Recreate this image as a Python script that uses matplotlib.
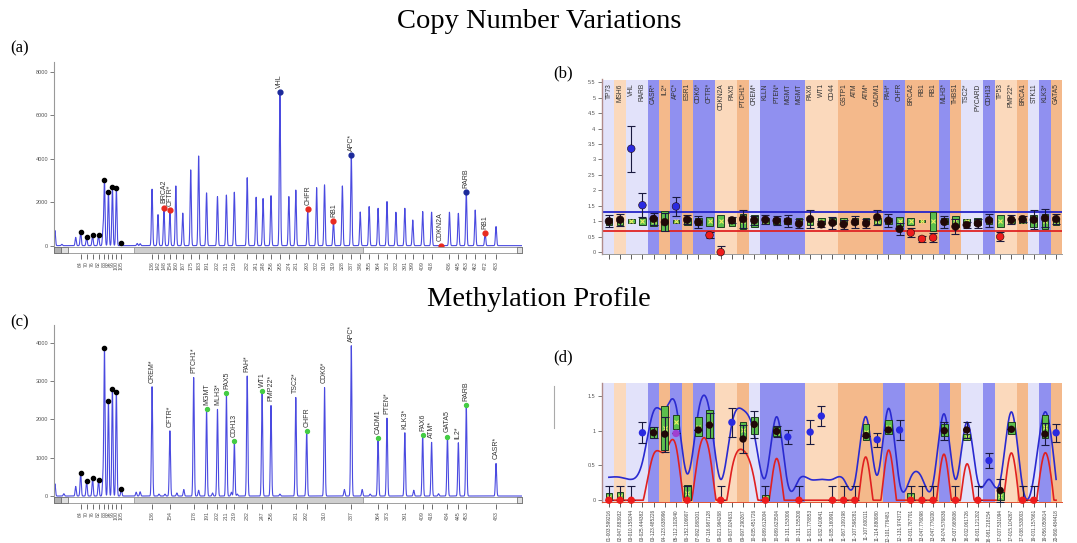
import numpy as np
import matplotlib
matplotlib.use('Agg')
import matplotlib.pyplot as plt
from matplotlib.patches import Rectangle
from matplotlib.lines import Line2D

# ---------------- data ----------------
# panel (a): CNV electropherogram
a_ctrl_size = [64, 70, 76, 82, 88, 92, 96, 100, 105]
a_ctrl_height = [650, 420, 490, 490, 3030, 2490, 2720, 2640, 110]
a_probe_size = [136, 142, 148, 154, 160, 167, 175, 183, 191, 202, 211, 219, 232, 241, 248, 256,
                265, 274, 281, 293, 302, 310, 319, 328, 337, 346, 355, 364, 373, 382, 391, 399,
                409, 418, 427, 436, 445, 453, 462, 472, 483]
a_probe_height = [2600, 1430, 1750, 1630, 2750, 1500, 3490, 4130, 2430, 2260, 2330, 2460, 3130,
                  2230, 2170, 2300, 7070, 2260, 2560, 1670, 2670, 2800, 1140, 2750, 4180, 1550,
                  1800, 1720, 2030, 1540, 1720, 1180, 1570, 1540, 0, 1540, 1490, 2460, 1640, 570, 880]
a_minor_size = [38, 45, 59, 86.5, 121, 124]
a_minor_height = [700, 60, 380, 680, 100, 90]
a_mark_size = [148, 154, 265, 293, 319, 337, 427, 453, 472]
a_mark_gene = ['BRCA2', 'CFTR*', 'VHL', 'CHFR', 'RB1', 'APC*', 'CDKN2A', 'RARB', 'RB1']
a_mark_call = ['loss', 'loss', 'gain', 'loss', 'loss', 'gain', 'loss', 'gain', 'loss']
a_yticks = [0, 2000, 4000, 6000, 8000]

# panel (c): methylation electropherogram
c_ctrl_size = [64, 70, 76, 82, 88, 92, 96, 100, 105]
c_ctrl_height = [600, 400, 470, 430, 3850, 2470, 2790, 2720, 180]
c_probe_size = [136, 154, 178, 191, 202, 211, 219, 232, 247, 256, 281, 292, 310, 337, 364, 373,
                391, 409, 418, 434, 445, 453, 483]
c_probe_gene = ['CREM*', 'CFTR*', 'PTCH1*', 'MGMT', 'MLH3*', 'PAX5', 'CDH13', 'PAH*', 'WT1',
                'PMP22*', 'TSC2*', 'CHFR', 'CDK6*', 'APC*', 'CADM1', 'PTEN*', 'KLK3*', 'PAX6',
                'ATM*', 'GATA5', 'IL2*', 'RARB', 'CASR*']
c_probe_height = [2850, 1700, 3090, 2260, 2260, 2680, 1440, 3130, 2730, 2360, 2570, 1700, 2830,
                  3920, 1520, 2030, 1650, 1590, 1400, 1550, 1390, 2370, 850]
c_methylated = [0, 0, 0, 1, 0, 1, 1, 0, 1, 0, 0, 1, 0, 0, 1, 0, 0, 1, 0, 1, 0, 1, 0]
c_minor_size = [38, 47, 59, 86.5, 120, 124, 143, 149, 161, 168, 183, 197, 216, 222, 265, 330,
                348, 356, 400, 425]
c_minor_height = [320, 60, 250, 470, 100, 110, 50, 50, 80, 170, 150, 80, 100, 50, 50, 170, 170,
                  50, 150, 60]
c_yticks = [0, 1000, 2000, 3000, 4000]

# panel (b): CNV ratio chart
b_genes = ['TP73', 'MSH6', 'VHL', 'RARB', 'CASR*', 'IL2*', 'APC*', 'ESR1', 'CDK6*', 'CFTR*',
           'CDKN2A', 'PAX5', 'PTCH1*', 'CREM*', 'KLLN', 'PTEN*', 'MGMT', 'MGMT', 'PAX6', 'WT1',
           'CD44', 'GSTP1', 'ATM', 'ATM*', 'CADM1', 'PAH*', 'CHFR', 'BRCA2', 'RB1', 'RB1',
           'MLH3*', 'THBS1', 'TSC2*', 'PYCARD', 'CDH13', 'TP53', 'PMP22*', 'BRCA1', 'STK11',
           'KLK3*', 'GATA5']
b_band = ['L', 'P', 'L', 'L', 'B', 'O', 'B', 'O', 'B', 'B', 'P', 'P', 'O', 'L', 'B', 'B', 'B',
          'B', 'P', 'P', 'P', 'O', 'O', 'O', 'O', 'B', 'B', 'O', 'O', 'O', 'B', 'O', 'L', 'L',
          'B', 'P', 'P', 'O', 'L', 'B', 'O']
b_ratio = [1.0, 1.05, 3.35, 1.52, 1.08, 0.97, 1.48, 1.05, 0.97, 0.55, 0.0, 1.03, 1.07, 1.03,
           1.05, 1.02, 1.0, 0.92, 1.07, 0.9, 0.95, 0.9, 0.97, 0.93, 1.13, 1.02, 0.75, 0.63, 0.43,
           0.47, 0.98, 0.83, 0.88, 0.93, 1.03, 0.5, 1.05, 1.07, 1.05, 1.1, 1.07]
b_err = [0.2, 0.2, 0.75, 0.38, 0.2, 0.3, 0.3, 0.15, 0.2, 0.1, 0.2, 0.1, 0.3, 0.15, 0.15, 0.15,
         0.2, 0.15, 0.28, 0.1, 0.2, 0.15, 0.2, 0.15, 0.25, 0.2, 0.2, 0.15, 0.1, 0.15, 0.2, 0.25,
         0.1, 0.15, 0.2, 0.15, 0.15, 0.1, 0.3, 0.3, 0.15]
b_box_half = [0.12, 0.12, 0.07, 0.12, 0.15, 0.33, 0.05, 0.12, 0.12, 0.15, 0.2, 0.15, 0.25, 0.2,
              0.1, 0.1, 0.1, 0.1, 0.12, 0.1, 0.1, 0.1, 0.1, 0.1, 0.1, 0.1, 0.15, 0.12, 0.03, 0.3,
              0.1, 0.18, 0.07, 0.12, 0.1, 0.2, 0.06, 0.06, 0.2, 0.25, 0.12]
b_upper, b_lower = 1.3, 0.7
b_yticks = [0, 0.5, 1, 1.5, 2, 2.5, 3, 3.5, 4, 4.5, 5, 5.5]

# panel (d): methylation ratio chart (same probe order / bands as (b))
d_labels = ['01-003.599216', '02-047.883932', '03-010.158244', '03-025.444382', '03-123.485226',
            '04-123.638996', '05-112.102040', '06-152.106907', '07-092.088201', '07-116.987128',
            '09-021.964268', '09-037.024631', '09-097.290267', '10-035.451726', '10-089.612004',
            '10-089.623504', '10-131.153006', '10-131.155200', '11-031.778853', '11-032.410841',
            '11-035.160991', '11-067.109198', '11-107.598281', '11-107.600111', '11-114.880080',
            '12-101.776481', '12-131.974372', '13-031.787701', '13-047.776098', '13-047.776200',
            '14-074.576836', '15-037.660606', '16-002.061726', '16-031.121202', '16-081.218154',
            '17-007.531094', '17-015.104267', '17-038.530003', '19-001.157661', '19-056.050614',
            '20-060.484418']
d_value = [0, 0, 0, 0.97, 0.97, 0.95, 0.96, 0, 1.01, 1.08, 0, 1.12, 0.88, 1.09, 0, 0.99, 0.91,
           0, 0.98, 1.21, 0, 0, 0, 0.93, 0.87, 1.01, 1.01, 0, 0, 0, 1.0, 0, 1.01, 0, 0.57, 0.14,
           1.02, 0, 0, 0.95, 0.97]
d_err = [0.2, 0.2, 0.2, 0.15, 0.08, 0.25, 0, 0.2, 0, 0.18, 0.2, 0.21, 0.2, 0.2, 0.2, 0.08, 0.1,
         0.2, 0.17, 0.14, 0.2, 0.2, 0.2, 0, 0.1, 0, 0.14, 0.2, 0.2, 0.2, 0.13, 0.2, 0.11, 0.2,
         0.11, 0.17, 0, 0.2, 0.2, 0.16, 0.13]
d_class = ['U', 'U', 'U', 'N', 'M', 'M', 'P', 'U', 'M', 'M', 'U', 'N', 'M', 'M', 'U', 'M', 'N',
           'U', 'N', 'N', 'U', 'U', 'U', 'M', 'N', 'M', 'N', 'U', 'U', 'U', 'M', 'U', 'M', 'U',
           'N', 'M', 'M', 'U', 'U', 'M', 'N']
nan = np.nan
d_box_lo = [0, 0, nan, nan, 0.9, 0.72, 1.02, 0, 0.92, 0.9, nan, nan, 0.9, 0.95, 0, 0.92, nan,
            nan, nan, nan, nan, nan, nan, 0.87, nan, 0.95, nan, 0, nan, nan, 0.92, nan, 0.87,
            nan, nan, 0, 0.95, nan, nan, 0.9, nan]
d_box_hi = [0.1, 0.12, nan, nan, 1.05, 1.35, 1.22, 0.22, 1.2, 1.3, nan, nan, 1.13, 1.2, 0.07,
            1.05, nan, nan, nan, nan, nan, nan, nan, 1.1, nan, 1.15, nan, 0.1, nan, nan, 1.1,
            nan, 0.95, nan, nan, 0.12, 1.12, nan, nan, 1.22, nan]
d_upper = [0.33, 0.33, 0.3, 0.55, 1.28, 1.3, 1.36, 0.38, 1.27, 1.28, 0.3, 1.1, 1.3, 0.95,
           0.33, 1.2, 0.24, 0.3, 0.3, 0.3, 0.3, 0.3, 0.27, 1.2, 0.36, 1.32, 0.25, 0.33, 0.32,
           0.25, 1.24, 0.3, 1.12, 0.27, 0.3, 0.28, 1.27, 0.2, 0.33, 1.27, 0.3]
d_lower = [-0.3, -0.3, -0.3, -0.05, 0.66, 0.7, 0.78, -0.2, 0.66, 0.68, -0.3, 0.45, 0.72, 0.3,
           -0.29, 0.6, -0.36, -0.32, -0.32, -0.32, -0.32, -0.32, -0.35, 0.62, -0.25, 0.72,
           -0.35, -0.29, -0.3, -0.35, 0.66, -0.3, 0.52, -0.33, -0.32, -0.3, 0.68, -0.38, -0.3,
           0.68, -0.3]
d_yticks = [0, 0.5, 1, 1.5]

# ---------------- styling ----------------
W, H = 1077, 543
fig = plt.figure(figsize=(W / 100, H / 100), dpi=100)
SANS = ['Liberation Sans', 'DejaVu Sans']
SERIF = ['Liberation Serif', 'DejaVu Serif']
TRACE = '#4a4ae0'
BAND = {'L': '#e2e2fa', 'P': '#fbd9bc', 'B': '#9090f0', 'O': '#f4b98b'}
GRAYTXT = '#555555'


def add_ax(l, t, r, b):
    return fig.add_axes([l / W, 1 - b / H, (r - l) / W, (b - t) / H])


def fig_rect(l, t, r, b, **kw):
    fig.add_artist(Rectangle((l / W, 1 - b / H), (r - l) / W, (b - t) / H,
                             transform=fig.transFigure, **kw))


def scrollbar(l, r, top):
    bot = top + 6.6
    fig_rect(l, top, r, bot, fc='white', ec='#909090', lw=0.6)
    fig_rect(l, top, l + 7, bot, fc='#b0b0b0', ec='#606060', lw=0.5)
    fig_rect(l + 7, top, l + 14, bot, fc='#e0e0e0', ec='#606060', lw=0.5)
    fig_rect(134.3, top, 362.7, bot, fc='#cfcfcf', ec='#8a8a8a', lw=0.5)
    fig_rect(r - 5, top, r, bot, fc='#e0e0e0', ec='#606060', lw=0.5)


def trace_panel(ax, sizes, heights, xlim, ylim, yticks, ticks):
    xs = np.arange(xlim[0], xlim[1], 0.04)
    ys = np.zeros_like(xs)
    for s, h in zip(sizes, heights):
        ys += h * np.exp(-0.5 * ((xs - s) / 0.6) ** 2)
    ax.plot(xs, ys, color=TRACE, lw=0.8, zorder=2)
    ax.set_xlim(*xlim)
    ax.set_ylim(*ylim)
    for sp in ['top', 'right']:
        ax.spines[sp].set_visible(False)
    ax.spines['bottom'].set_visible(False)
    ax.spines['bottom'].set_position(('outward', 5.5))
    ax.spines['left'].set_color('#999999')
    ax.spines['left'].set_linewidth(0.8)
    ax.set_yticks(yticks)
    ax.set_yticklabels([str(v) for v in yticks], fontsize=4, color=GRAYTXT, family=SANS)
    ax.tick_params(axis='y', length=3, width=0.6, color='#666666', pad=1.5)
    ax.set_xticks(ticks)
    ax.set_xticklabels([str(int(t)) for t in ticks], rotation=90, fontsize=3.8,
                       color=GRAYTXT, family=SANS)
    ax.tick_params(axis='x', length=3.5, width=0.6, color='#555555', pad=1.5)
    ax.patch.set_alpha(0)


def spline(x, y, xs):
    x = np.asarray(x, float)
    y = np.asarray(y, float)
    n = len(x)
    h = np.diff(x)
    A = np.zeros((n, n))
    r = np.zeros(n)
    A[0, 0] = A[-1, -1] = 1
    for i in range(1, n - 1):
        A[i, i - 1] = h[i - 1]
        A[i, i] = 2 * (h[i - 1] + h[i])
        A[i, i + 1] = h[i]
        r[i] = 3 * ((y[i + 1] - y[i]) / h[i] - (y[i] - y[i - 1]) / h[i - 1])
    c = np.linalg.solve(A, r)
    b = (y[1:] - y[:-1]) / h - h * (2 * c[:-1] + c[1:]) / 3
    d = (c[1:] - c[:-1]) / (3 * h)
    idx = np.clip(np.searchsorted(x, xs) - 1, 0, n - 2)
    dx = xs - x[idx]
    return y[idx] + b[idx] * dx + c[idx] * dx ** 2 + d[idx] * dx ** 3


def band_panel(ax, n, ylim, yticks):
    ax.set_xlim(-0.643, n - 0.5)
    ax.set_ylim(*ylim)
    ax.axvspan(-0.643, -0.5, color='#c4c4c4', lw=0, zorder=0)
    for i, code in enumerate(b_band):
        ax.axvspan(i - 0.5, i + 0.5, color=BAND[code], lw=0, zorder=0)
    for sp in ['top', 'right']:
        ax.spines[sp].set_visible(False)
    ax.spines['left'].set_color('#b08a8a')
    ax.spines['left'].set_linewidth(1.0)
    ax.spines['bottom'].set_color('#999999')
    ax.spines['bottom'].set_linewidth(0.7)
    ax.set_yticks(yticks)
    ax.set_yticklabels(['%g' % v for v in yticks], fontsize=4, color=GRAYTXT, family=SANS)
    ax.tick_params(axis='y', length=3, width=0.6, color='#666666', pad=1.5)
    ax.set_xticks(range(n))
    ax.tick_params(axis='x', length=3.5, width=0.6, color='#444444', pad=1.5)


def boxes(ax, xs, lo, hi):
    for x, l, h in zip(xs, lo, hi):
        if np.isnan(l):
            continue
        ax.add_patch(Rectangle((x - 0.3, l), 0.6, h - l, fc='#5cbf4c', ec='#1f3f1f', lw=0.7,
                               zorder=3.5))
        ax.plot([x], [(l + h) / 2], marker='x', ms=2.2, mew=0.8, color='#f0f060', zorder=3.6)


# ---------------- panel (a) ----------------
axa = add_ax(54.3, 62, 521.7, 246.5)
a_sizes = a_ctrl_size + a_probe_size + a_minor_size
a_heights = a_ctrl_height + a_probe_height + a_minor_height
a_ticks = a_ctrl_size + [s for s in a_probe_size if s != 427]
trace_panel(axa, a_sizes, a_heights, (37.4, 508.9), (-40, 8460), a_yticks, a_ticks)
axa.scatter(a_ctrl_size, a_ctrl_height, s=9, color='black', zorder=4)
for s, g, call in zip(a_mark_size, a_mark_gene, a_mark_call):
    h = a_probe_height[a_probe_size.index(s)]
    col = '#e82a20' if call == 'loss' else '#1c2a9a'
    axa.scatter([s], [h], s=12, color=col, zorder=4, clip_on=False)
    axa.annotate(g, (s, h), xytext=(0, 3), textcoords='offset points', rotation=90,
                 ha='center', va='bottom', fontsize=5, color='#333333', family=SANS)
scrollbar(54.3, 521.7, 246.7)

# ---------------- panel (c) ----------------
axc = add_ax(54.3, 325, 521.7, 496.7)
c_sizes = c_ctrl_size + c_probe_size + c_minor_size
c_heights = c_ctrl_height + c_probe_height + c_minor_height
c_ticks = c_ctrl_size + c_probe_size
trace_panel(axc, c_sizes, c_heights, (37.4, 508.9), (-18, 4461), c_yticks, c_ticks)
axc.scatter(c_ctrl_size, c_ctrl_height, s=9, color='black', zorder=4)
for s, g, h, m in zip(c_probe_size, c_probe_gene, c_probe_height, c_methylated):
    if m:
        axc.scatter([s], [h], s=8, color='#44cc44', zorder=4)
    axc.annotate(g, (s, h), xytext=(0, 3), textcoords='offset points', rotation=90,
                 ha='center', va='bottom', fontsize=5, color='#333333', family=SANS)
scrollbar(54.3, 521.7, 496.7)

# ---------------- panel (b) ----------------
axb = add_ax(601.7, 79.5, 1061.7, 254)
nb = len(b_genes)
xb = np.arange(nb)
band_panel(axb, nb, (-0.06, 5.59), b_yticks)
axb.set_xticklabels([''] * nb)
axb.axhline(b_upper, color='#2424c8', lw=1.3, zorder=1)
axb.axhline(b_lower, color='#e02424', lw=1.3, zorder=1)
boxes(axb, xb, [1 - h for h in b_box_half], [1 + h for h in b_box_half])
axb.errorbar(xb, b_ratio, yerr=b_err, fmt='none', ecolor='#1a1a40', elinewidth=0.8,
             capsize=3, capthick=0.8, zorder=4)
b_cols = ['#2a2ae0' if v > b_upper else ('#ee1c1c' if v < b_lower else '#200808')
          for v in b_ratio]
axb.scatter(xb, b_ratio, s=30, c=b_cols, edgecolors='#200808', linewidths=0.4, zorder=5,
            clip_on=False)
for i, g in enumerate(b_genes):
    axb.text(i, 5.47, g, rotation=90, ha='center', va='top', fontsize=4.8, color='#333333',
             family=SANS, zorder=6)

# ---------------- panel (d) ----------------
axd = add_ax(601.7, 382.7, 1061.7, 502.3)
nd = len(d_labels)
xd = np.arange(nd)
band_panel(axd, nd, (-0.03, 1.69), d_yticks)
axd.spines['bottom'].set_color('#e05030')
axd.set_xticklabels(d_labels, rotation=90, fontsize=3.4, color='#444444', family=SANS)
xs_fine = np.linspace(0, nd - 1, 1200)
axd.plot(xs_fine, spline(xd, d_upper, xs_fine), color='#2a2ad0', lw=1.2, zorder=3)
axd.plot(xs_fine, np.maximum(spline(xd, d_lower, xs_fine), 0), color='#e02020', lw=1.2,
         zorder=3, clip_on=False)
boxes(axd, xd, d_box_lo, d_box_hi)
axd.errorbar(xd, d_value, yerr=[[e if v > 0 else 0 for e, v in zip(d_err, d_value)],
                                d_err], fmt='none', ecolor='#1a1a40', elinewidth=0.8,
             capsize=3, capthick=0.8, zorder=4)
d_colmap = {'U': '#ee1c1c', 'M': '#200808', 'N': '#2a2ae0', 'P': '#a040d0'}
axd.scatter(xd, d_value, s=28, c=[d_colmap[k] for k in d_class], linewidths=0, zorder=5,
            clip_on=False)

# decorative leftovers
fig.add_artist(Line2D([554 / W, 554 / W], [1 - 386 / H, 1 - 428 / H], color='#aaaaaa', lw=0.8))

# ---------------- titles and panel letters ----------------
fig.text(539 / W, 1 - 22 / H, 'Copy Number Variations', ha='center', va='center',
         fontsize=20.5, family=SERIF)
fig.text(539 / W, 1 - 300 / H, 'Methylation Profile', ha='center', va='center',
         fontsize=20.5, family=SERIF)
for lab, (x, y) in {'(a)': (20, 48), '(b)': (563, 73), '(c)': (20, 322),
                    '(d)': (563, 357)}.items():
    fig.text(x / W, 1 - y / H, lab, ha='center', va='center', fontsize=12, family=SERIF)

fig.savefig('out.png', dpi=100)
